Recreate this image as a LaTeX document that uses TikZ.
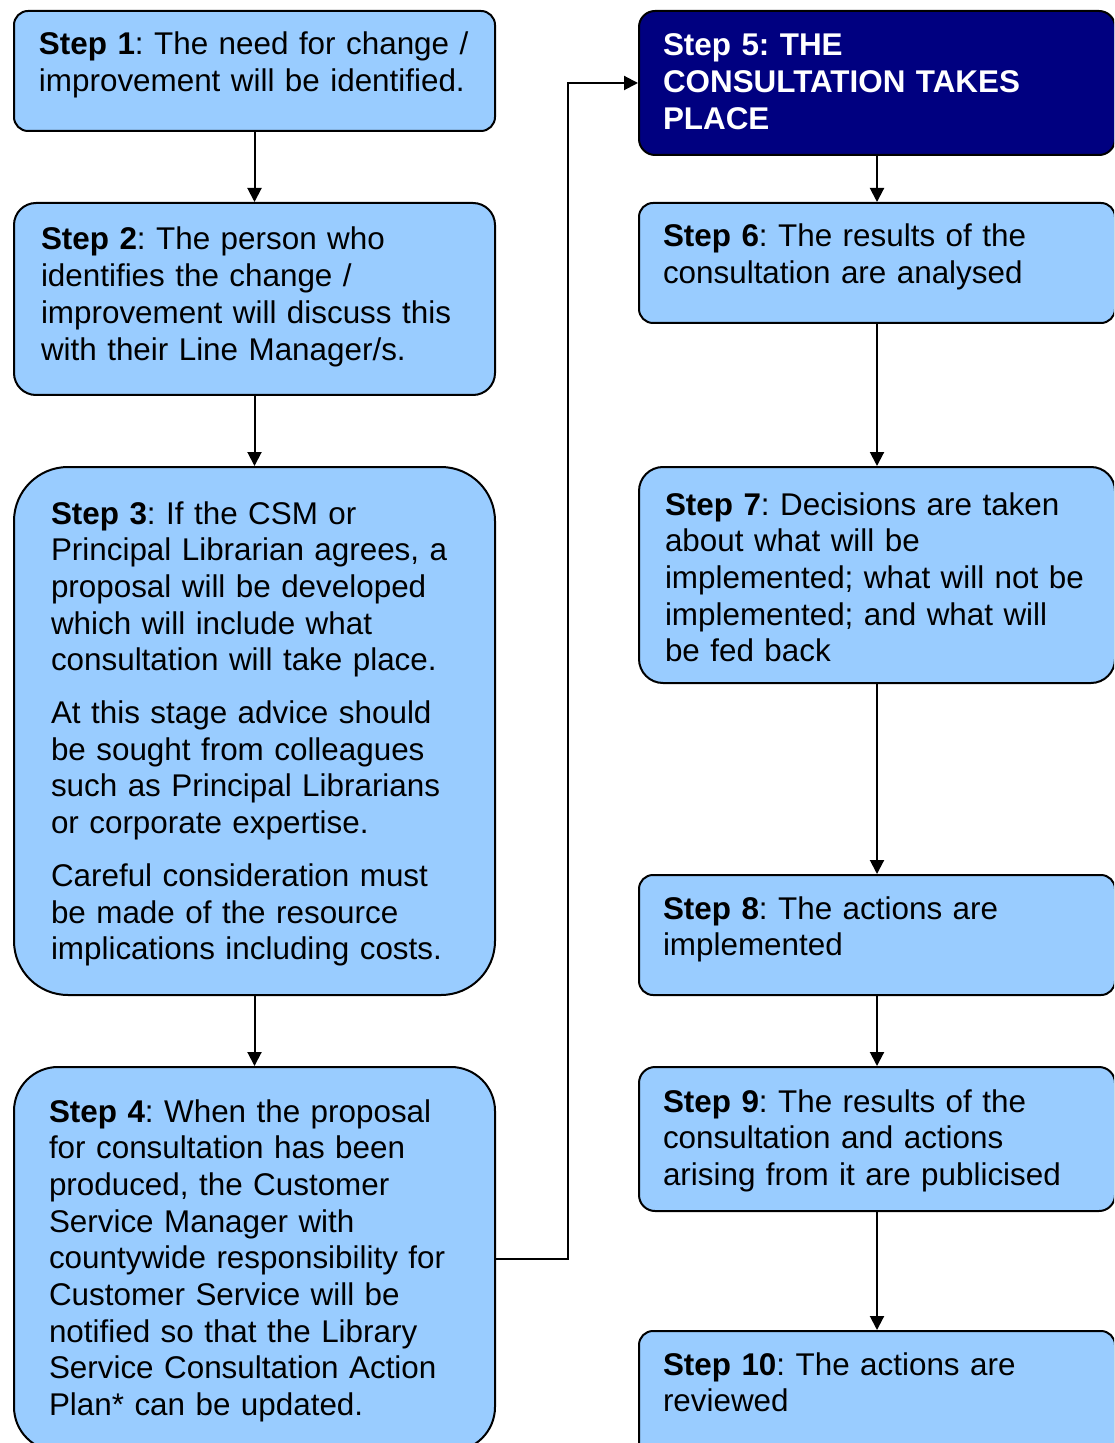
\documentclass[tikz,border=0pt]{standalone}
\usepackage{fontspec}
\setmainfont{Liberation Sans}
\usetikzlibrary{arrows.meta}

\definecolor{boxblue}{HTML}{99CCFF}
\definecolor{boxnavy}{HTML}{000080}

\hyphenpenalty=10000
\frenchspacing

\tikzset{
  stepbox/.style={draw=black, line width=1pt, fill=boxblue, anchor=north west,
    align=left, inner ysep=0pt, inner xsep=12pt, text width=214pt,
    font=\fontsize{15.7pt}{18.35pt}\selectfont},
  link/.style={draw=black, line width=1pt, -{Triangle[length=7pt,width=7pt]}}
}

\begin{document}
\begin{tikzpicture}[x=0.5pt,y=-0.5pt]
  \useasboundingbox (0,0) rectangle (1114,1443);
  \clip (0,0) rectangle (1114,1443);

  \node[stepbox, rounded corners=7pt, inner xsep=12.5pt, text width=215.5pt,
    text height=22pt, text depth=38pt] (s1) at (13,10)
    {\textbf{Step 1}: The need for change /\\ improvement will be identified.};
  \node[stepbox, rounded corners=11pt, inner xsep=13.5pt, text width=213.5pt,
    text height=23.5pt, text depth=72.5pt] (s2) at (13,202)
    {\textbf{Step 2}: The person who\\ identifies the change /\\ improvement will discuss this\\ with their Line Manager/s.};
  \node[stepbox, rounded corners=27pt, inner xsep=18.5pt, text width=203.5pt,
    text height=28.5pt, text depth=235.5pt] (s3) at (13,466)
    {\textbf{Step 3}: If the CSM or\\ Principal Librarian agrees, a\\ proposal will be developed\\ which will include what\\ consultation will take place.\\[8pt]
     At this stage advice should\\ be sought from colleagues\\ such as Principal Librarians\\ or corporate expertise.\\[8pt]
     Careful consideration must\\ be made of the resource\\ implications including costs.};
  \node[stepbox, rounded corners=22pt, inner xsep=17.5pt, text width=205.5pt,
    text height=27.5pt, text depth=164.5pt] (s4) at (13,1066)
    {\textbf{Step 4}: When the proposal\\ for consultation has been\\ produced, the Customer\\ Service Manager with\\ countywide responsibility for\\ Customer Service will be\\ notified so that the Library\\ Service Consultation Action\\ Plan* can be updated.};

  \node[stepbox, rounded corners=8pt, fill=boxnavy, text=white,
    font=\fontsize{15.7pt}{18.35pt}\selectfont\bfseries,
    text height=22.5pt, text depth=49.5pt] (s5) at (638,10)
    {Step 5: THE\\ CONSULTATION TAKES\\ PLACE};
  \node[stepbox, rounded corners=7pt, text height=22pt, text depth=38pt] (s6) at (638,202)
    {\textbf{Step 6}: The results of the\\ consultation are analysed};
  \node[stepbox, rounded corners=12pt, inner xsep=13pt, text width=212pt,
    text height=24pt, text depth=84pt] (s7) at (638,466)
    {\textbf{Step 7}: Decisions are taken\\ about what will be\\ implemented; what will not be\\ implemented; and what will\\ be fed back};
  \node[stepbox, rounded corners=7pt, text height=22pt, text depth=38pt] (s8) at (638,874)
    {\textbf{Step 8}: The actions are\\ implemented};
  \node[stepbox, rounded corners=8pt, text height=22.5pt, text depth=49.5pt] (s9) at (638,1066)
    {\textbf{Step 9}: The results of the\\ consultation and actions\\ arising from it are publicised};
  \node[stepbox, rounded corners=7pt, text height=22pt, text depth=43pt] (s10) at (638,1330)
    {\textbf{Step 10}: The actions are\\ reviewed};

  \draw[link] (s1.south) -- (s2.north);
  \draw[link] (s2.south) -- (s3.north);
  \draw[link] (s3.south) -- (s4.north);
  \draw[link] (s4.east) -- ++(72,0) |- (s5.west);
  \draw[link] (s5.south) -- (s6.north);
  \draw[link] (s6.south) -- (s7.north);
  \draw[link] (s7.south) -- (s8.north);
  \draw[link] (s8.south) -- (s9.north);
  \draw[link] (s9.south) -- (s10.north);
\end{tikzpicture}
\end{document}
